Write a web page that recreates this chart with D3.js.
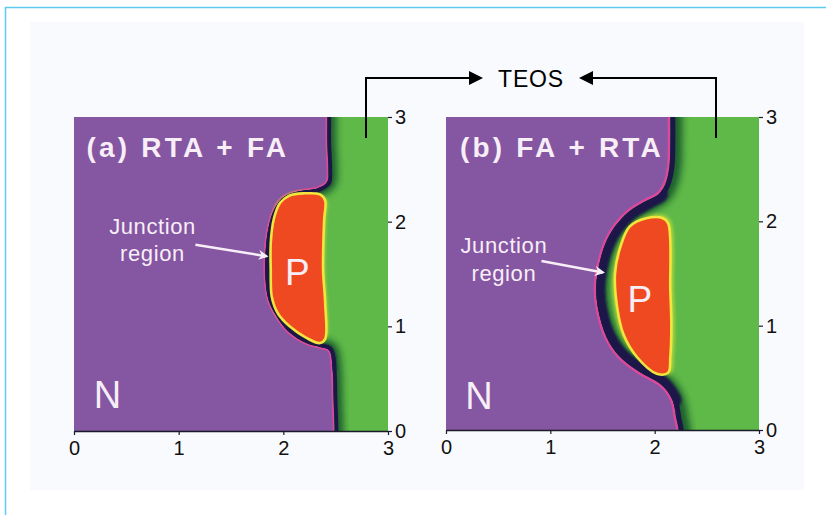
<!DOCTYPE html>
<html>
<head>
<meta charset="utf-8">
<script src="https://cdn.jsdelivr.net/npm/d3@7"></script>
<style>
  body { margin: 0; background: #ffffff; }
  svg { display: block; font-family: "Liberation Sans", Arial, sans-serif; }
</style>
</head>
<body>
<svg id="chart" width="826" height="515"></svg>
<script>
// Axis ticks (depth / lateral position, in µm)
const xTicks = [0, 1, 2, 3];
const yTicks = [0, 1, 2, 3];

// Panel titles and annotation texts
const panelTitles = ["(a) RTA + FA", "(b) FA + RTA"];
const calloutLines = ["Junction", "region"];
const pLabel = "P";
const nLabel = "N";
const teosLabel = "TEOS";

// N/P junction contour (x, y) from top to bottom — panel (a)
const junctionA = [
  [2.42, 3.00], [2.42, 2.75], [2.43, 2.50], [2.42, 2.38], [2.33, 2.32],
  [2.15, 2.29], [2.01, 2.24], [1.92, 2.13], [1.86, 1.95], [1.83, 1.70],
  [1.83, 1.45], [1.86, 1.25], [1.94, 1.09], [2.06, 0.94], [2.22, 0.84],
  [2.36, 0.80], [2.44, 0.77], [2.47, 0.60], [2.48, 0.30], [2.49, 0.00]
];
// Heavily doped P pocket outline — panel (a)
const pRegionA = [
  [2.19, 2.27], [2.06, 2.25], [1.97, 2.18], [1.91, 2.03], [1.88, 1.80],
  [1.88, 1.54], [1.89, 1.28], [1.95, 1.12], [2.06, 1.00], [2.22, 0.89],
  [2.35, 0.84], [2.40, 0.88], [2.40, 1.22], [2.38, 1.54], [2.39, 2.02],
  [2.40, 2.20], [2.35, 2.26]
];

// N/P junction contour — panel (b)
const junctionB = [
  [2.15, 3.00], [2.15, 2.77], [2.14, 2.51], [2.10, 2.35], [2.04, 2.26],
  [1.91, 2.19], [1.75, 2.09], [1.62, 1.95], [1.53, 1.79], [1.47, 1.59],
  [1.44, 1.37], [1.46, 1.15], [1.54, 0.89], [1.66, 0.71], [1.85, 0.56],
  [2.07, 0.43], [2.17, 0.29], [2.21, 0.10], [2.23, 0.00]
];
// Heavily doped P pocket outline — panel (b)
const pRegionB = [
  [1.92, 2.03], [1.76, 1.95], [1.67, 1.75], [1.62, 1.50], [1.64, 1.18],
  [1.70, 0.92], [1.83, 0.70], [2.02, 0.54], [2.13, 0.55], [2.15, 0.70],
  [2.16, 1.00], [2.15, 1.34], [2.13, 1.98], [2.08, 2.03]
];

// Callout anchor positions, in data units
const calloutA = { text: [0.75, 1.88, 1.62], arrow: [[1.16, 1.78], [1.84, 1.67]], title: [0.12, 2.62], p: [2.135, 1.395], n: [0.32, 0.22] };
const calloutB = { text: [0.555, 1.70, 1.43], arrow: [[0.915, 1.62], [1.505, 1.51]], title: [0.134, 2.62], p: [1.857, 1.13], n: [0.316, 0.20] };

const colors = {
  nType: "#8556a1",
  pink: "#de479d",
  navy: "#1b1848",
  darkGreen: "#1f5e2e",
  pType: "#5fb948",
  yellow: "#f2e53c",
  limeHalo: "#a4d43c",
  red: "#ef4a23",
  label: "#f7eef7"
};

// bump = index range of the junction points that wrap the pocket
const panels = [
  { left: 74, top: 117, size: 314, title: panelTitles[0], junction: junctionA, pocket: pRegionA, call: calloutA,
    pinkW: 1.8, navyW: 3.8, bumpW: 3.8, bump: [3, 17], fadeW: 18, haloW: 4 },
  { left: 446, top: 117, size: 313, title: panelTitles[1], junction: junctionB, pocket: pRegionB, call: calloutB,
    pinkW: 2.6, navyW: 5, bumpW: 9, bump: [4, 16], fadeW: 24, haloW: 7 }
];

const svg = d3.select("#chart");

// Page frame
svg.append("rect").attr("x", 30).attr("y", 22).attr("width", 774).attr("height", 468).attr("fill", "#f9fafd");
svg.append("line").attr("x1", 5).attr("x2", 826).attr("y1", 7.5).attr("y2", 7.5).attr("stroke", "#5ccbef").attr("stroke-width", 1.5);
svg.append("line").attr("x1", 5.5).attr("x2", 5.5).attr("y1", 7).attr("y2", 515).attr("stroke", "#5ccbef").attr("stroke-width", 1.5);

const defs = svg.append("defs");
defs.append("filter").attr("id", "soft").attr("x", "-5%").attr("y", "-5%").attr("width", "110%").attr("height", "110%")
  .append("feGaussianBlur").attr("stdDeviation", 0.7);
defs.append("filter").attr("id", "fade").attr("x", "-20%").attr("y", "-20%").attr("width", "140%").attr("height", "140%")
  .append("feGaussianBlur").attr("stdDeviation", 3.5);
defs.append("filter").attr("id", "halo").attr("x", "-20%").attr("y", "-20%").attr("width", "140%").attr("height", "140%")
  .append("feGaussianBlur").attr("stdDeviation", 1.6);
defs.append("filter").attr("id", "edge").attr("x", "-20%").attr("y", "-20%").attr("width", "140%").attr("height", "140%")
  .append("feGaussianBlur").attr("stdDeviation", 1.2);
defs.append("marker").attr("id", "callHead").attr("viewBox", "0 0 10 10").attr("refX", 8).attr("refY", 5)
  .attr("markerWidth", 4.2).attr("markerHeight", 4.2).attr("orient", "auto").attr("markerUnits", "strokeWidth")
  .append("path").attr("d", "M0,0 L10,5 L0,10 L3,5 Z").attr("fill", colors.label);

panels.forEach((p, i) => {
  const x = d3.scaleLinear().domain([0, 3]).range([p.left, p.left + p.size]);
  const y = d3.scaleLinear().domain([0, 3]).range([p.top + p.size, p.top]);
  const line = d3.line().x(d => x(d[0])).y(d => y(d[1])).curve(d3.curveCatmullRom.alpha(0.5));
  const closed = d3.line().x(d => x(d[0])).y(d => y(d[1])).curve(d3.curveCatmullRomClosed.alpha(0.5));

  // junction extended past the frame so the edges stay covered
  const ext = [[p.junction[0][0], 3.2], ...p.junction, [p.junction[p.junction.length - 1][0], -0.2]];
  const jLine = line(ext);
  const bumpLine = line(p.junction.slice(p.bump[0], p.bump[1] + 1));
  const greenD = jLine + `L${x(3.3)},${y(-0.2)}L${x(3.3)},${y(3.2)}Z`;

  defs.append("clipPath").attr("id", `plot${i}`)
    .append("rect").attr("x", x(0)).attr("y", y(3)).attr("width", x(3) - x(0)).attr("height", y(0) - y(3));
  defs.append("clipPath").attr("id", `green${i}`).append("path").attr("d", greenD);

  const outer = svg.append("g").attr("clip-path", `url(#plot${i})`);
  const g = outer.append("g").attr("filter", "url(#soft)");

  // N-type background
  g.append("rect").attr("x", x(0) - 10).attr("y", y(3) - 10).attr("width", x(3) - x(0) + 20).attr("height", y(0) - y(3) + 20)
    .attr("fill", colors.nType);
  // pink rim on the N side of the junction
  g.append("path").attr("d", jLine).attr("fill", "none").attr("stroke", colors.pink).attr("stroke-width", 2 * p.pinkW);
  // P-type region
  g.append("path").attr("d", greenD).attr("fill", colors.pType);

  const pocketD = closed(p.pocket);
  // soft lime glow around the pocket
  g.append("path").attr("d", pocketD).attr("fill", "none").attr("stroke", colors.limeHalo)
    .attr("stroke-width", p.haloW).attr("filter", "url(#halo)");

  // depletion shading on the P side
  const gz = g.append("g").attr("clip-path", `url(#green${i})`);
  gz.append("path").attr("d", jLine).attr("fill", "none").attr("stroke", colors.darkGreen)
    .attr("stroke-width", p.fadeW).attr("filter", "url(#fade)");
  gz.append("path").attr("d", jLine).attr("fill", "none").attr("stroke", colors.navy).attr("stroke-width", 2 * p.navyW);
  gz.append("path").attr("d", bumpLine).attr("fill", "none").attr("stroke", colors.navy)
    .attr("stroke-width", 2 * p.bumpW).attr("stroke-linecap", "round").attr("filter", "url(#edge)");

  // heavily doped pocket
  g.append("path").attr("d", pocketD).attr("fill", colors.red).attr("stroke", colors.yellow).attr("stroke-width", 2.6);

  // texts
  const c = p.call;
  svg.append("text").attr("x", x(c.title[0])).attr("y", y(c.title[1])).text(p.title)
    .attr("fill", colors.label).attr("font-size", 28).attr("font-weight", "bold").attr("letter-spacing", 3.2);
  calloutLines.forEach((t, k) => {
    svg.append("text").attr("x", x(c.text[0])).attr("y", y(c.text[1 + k])).attr("text-anchor", "middle")
      .attr("fill", colors.label).attr("font-size", 22).attr("letter-spacing", 0.6).text(t);
  });
  svg.append("line").attr("x1", x(c.arrow[0][0])).attr("y1", y(c.arrow[0][1]))
    .attr("x2", x(c.arrow[1][0])).attr("y2", y(c.arrow[1][1]))
    .attr("stroke", colors.label).attr("stroke-width", 2.4).attr("marker-end", "url(#callHead)");
  svg.append("text").attr("x", x(c.p[0])).attr("y", y(c.p[1])).attr("text-anchor", "middle")
    .attr("fill", colors.label).attr("font-size", 37).text(pLabel);
  svg.append("text").attr("x", x(c.n[0])).attr("y", y(c.n[1])).attr("text-anchor", "middle")
    .attr("fill", colors.label).attr("font-size", 38).text(nLabel);

  // axes
  const ax = svg.append("g").attr("transform", `translate(0,${y(0)})`)
    .call(d3.axisBottom(x).tickValues(xTicks).tickFormat(d3.format("d")).tickSize(4).tickSizeOuter(0).tickPadding(6));
  const ay = svg.append("g").attr("transform", `translate(${x(3)},0)`)
    .call(d3.axisRight(y).tickValues(yTicks).tickFormat(d3.format("d")).tickSize(4).tickSizeOuter(0).tickPadding(3));
  ay.select(".domain").remove();
  [ax, ay].forEach(a => {
    a.selectAll("text").attr("font-size", 20).attr("fill", "#111").attr("font-family", "'Liberation Sans', Arial, sans-serif");
    a.selectAll("line").attr("stroke", "#1a1a2a").attr("stroke-width", 1.2);
    a.selectAll(".domain").attr("stroke", "#1a1a2a").attr("stroke-width", 1.4);
  });
});

// TEOS leader arrows
const lead = svg.append("g").attr("stroke", "#000").attr("stroke-width", 2).attr("fill", "none");
lead.append("path").attr("d", "M366,138 V78 H472");
lead.append("path").attr("d", "M716,138 V78 H590");
svg.append("path").attr("d", "M483,78 L469,71 L469,85 Z").attr("fill", "#000");
svg.append("path").attr("d", "M579,78 L593,71 L593,85 Z").attr("fill", "#000");
svg.append("text").attr("x", 531).attr("y", 86.5).attr("text-anchor", "middle")
  .attr("font-size", 23).attr("letter-spacing", 0.8).attr("fill", "#000").text(teosLabel);
</script>
</body>
</html>
